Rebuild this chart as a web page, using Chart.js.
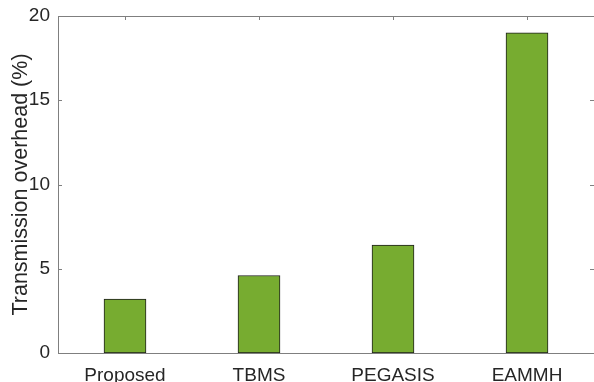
<!DOCTYPE html>
<html>
<head>
<meta charset="utf-8">
<script src="https://cdn.jsdelivr.net/npm/chart.js@4.4.1/dist/chart.umd.min.js"></script>
<style>
  html, body { margin: 0; padding: 0; background: #fff; overflow: hidden; }
  #wrap { width: 596px; height: 382px; }
</style>
</head>
<body>
<div id="wrap"><canvas id="myChart" width="596" height="382"></canvas></div>
<script>
const methods = ['Proposed', 'TBMS', 'PEGASIS', 'EAMMH'];
const overhead = [3.2, 4.6, 6.4, 19.0];
const yTicks = [0, 5, 10, 15, 20];

const axisGray = '#7f7f7f';
const textCol = '#262626';
const fontFam = 'Liberation Sans, Arial, sans-serif';

// box around the plot with small inward ticks, matlab style
const boxAxes = {
  id: 'boxAxes',
  beforeDatasetsDraw(chart) {
    const { ctx, chartArea: a, scales } = chart;
    ctx.save();
    ctx.strokeStyle = axisGray;
    ctx.lineWidth = 1;
    ctx.beginPath();
    yTicks.forEach(v => {
      const y = Math.round(scales.y.getPixelForValue(v)) + 0.5;
      ctx.moveTo(a.left, y); ctx.lineTo(a.left + 4, y);
      ctx.moveTo(a.right, y); ctx.lineTo(a.right - 4, y);
    });
    methods.forEach((m, i) => {
      const x = Math.round(scales.x.getPixelForValue(i)) + 0.5;
      ctx.moveTo(x, a.top); ctx.lineTo(x, a.top + 4);
      ctx.moveTo(x, a.bottom); ctx.lineTo(x, a.bottom - 4);
    });
    ctx.stroke();
    ctx.restore();
  },
  afterDatasetsDraw(chart) {
    const { ctx, chartArea: a } = chart;
    ctx.save();
    ctx.strokeStyle = axisGray;
    ctx.lineWidth = 1;
    ctx.strokeRect(Math.round(a.left) + 0.5, Math.round(a.top) + 0.5,
      Math.round(a.right - a.left), Math.round(a.bottom - a.top));
    ctx.restore();
  }
};

// keep the tick labels from pushing the plot area around
function noPad(s) {
  s.paddingTop = 0; s.paddingBottom = 0;
  s.paddingLeft = 0; s.paddingRight = 0;
}

const data = {
  labels: methods,
  datasets: [{
    data: overhead,
    backgroundColor: '#77ac30',
    borderColor: '#1e1e1e',
    borderWidth: 1,
    borderSkipped: false,
    barThickness: 42
  }]
};

const config = {
  type: 'bar',
  data: data,
  plugins: [boxAxes],
  options: {
    responsive: false,
    animation: false,
    layout: { padding: { top: 16, right: 2, left: 0, bottom: 0 } },
    plugins: { legend: { display: false }, tooltip: { enabled: false } },
    scales: {
      x: {
        grid: { display: false, drawTicks: false },
        border: { display: false },
        ticks: {
          color: textCol,
          padding: 11,
          maxRotation: 0,
          font: { family: fontFam, size: 19 }
        },
        afterFit(s) { s.height = 29; noPad(s); }
      },
      y: {
        min: 0,
        max: 20,
        grid: { display: false, drawTicks: false },
        border: { display: false },
        ticks: {
          stepSize: 5,
          color: textCol,
          padding: 8,
          font: { family: fontFam, size: 19 }
        },
        title: {
          display: true,
          text: 'Transmission overhead (%)',
          color: textCol,
          padding: { top: 8, bottom: 0 },
          font: { family: fontFam, size: 21.5 }
        },
        afterFit(s) { s.width = 58; noPad(s); }
      }
    }
  }
};

const myChart = new Chart(document.getElementById('myChart'), config);
</script>
</body>
</html>
